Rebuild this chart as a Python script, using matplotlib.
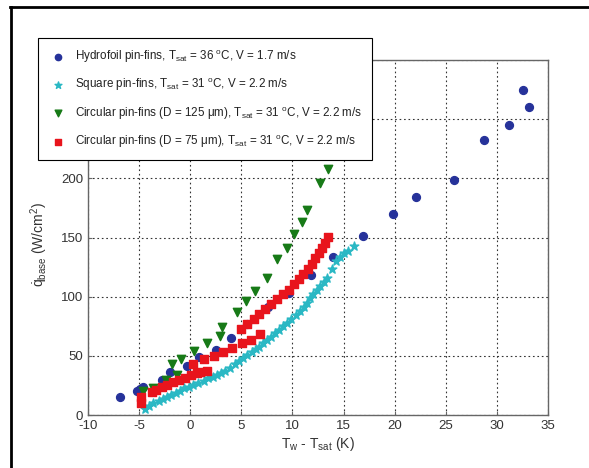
import matplotlib
matplotlib.use("Agg")
import matplotlib.pyplot as plt
from matplotlib.lines import Line2D

plt.rcParams['font.family'] = ['Liberation Sans', 'DejaVu Sans']
plt.rcParams['mathtext.fontset'] = 'custom'
plt.rcParams['mathtext.rm'] = 'Liberation Sans'
plt.rcParams['mathtext.it'] = 'Liberation Sans:italic'
plt.rcParams['axes.unicode_minus'] = False

# hydrofoil pin-fins, Tsat = 36 C, V = 1.7 m/s
hydro_x = [-6.9, -5.2, -4.9, -4.6, -2.8, -2.0, -0.3, 0.9, 2.5, 4.0, 5.6, 7.6, 9.7,
           11.8, 14.0, 16.9, 19.8, 22.1, 25.8, 28.7, 31.2, 32.6, 33.1]
hydro_y = [15, 20.5, 22, 23.5, 29.5, 36, 41.7, 48.7, 55, 65.5, 77, 91, 103,
           118, 133.5, 151, 169.5, 184, 199, 232, 245, 275, 260]

# square pin-fins
square_x = [-4.4, -4.0, -3.6, -3.1, -2.7, -2.3, -1.9, -1.4, -1.0, -0.6, -0.1, 0.3, 0.8,
            1.3, 1.7, 2.2, 2.6, 3.0, 3.4, 3.9, 4.4, 4.8, 5.2, 5.6, 6.0, 6.4, 6.7,
            7.1, 7.5, 7.9, 8.3, 8.7, 9.1, 9.5, 9.9, 10.3, 10.75, 11.1, 11.4, 11.7,
            12.05, 12.4, 12.7, 13.1, 13.4, 13.85, 14.3, 14.7, 15.0, 15.4, 16.0]
square_y = [5, 8, 10, 12.2, 13.8, 15.5, 17, 19, 20.6, 22.5, 24, 25, 27,
            29.1, 31, 32.5, 34, 35.5, 37.5, 40, 43.1, 45.5, 48.2, 50.5, 52.9, 55.5, 57.7,
            60.5, 63.3, 66, 68.9, 72, 75.4, 78, 81, 84.5, 88, 91.5, 95, 98.5,
            102, 105.5, 109, 112.5, 116, 123, 130, 133.5, 137, 139, 142.8]

# circular pin-fins, D = 125 um
c125_x = [-4.6, -3.6, -2.4, -1.8, -1.3, -0.9, 0.4, 1.6, 2.9, 3.1, 4.6, 5.5, 6.35,
          7.5, 8.5, 9.5, 10.2, 10.9, 11.4, 12.7, 13.5]
c125_y = [20.6, 23, 29.6, 43, 34, 47.3, 53.8, 61, 67, 74, 87, 96, 105,
          116, 132, 141, 152.6, 163, 173, 196, 208]

# circular pin-fins, D = 75 um
c75_x = [-4.8, -4.8, -3.75, -3.3, -2.8, -2.3, -1.7, -1.1, -0.5, 0.1, 0.7, 1.0, 1.6,
         0.3, 1.3, 2.3, 3.2, 4.1, 5.05, 5.9, 6.8,
         5.0, 5.6, 6.2, 6.75, 7.3, 7.9, 8.5, 9.1, 9.7, 10.2, 10.6, 11.0, 11.5,
         11.9, 12.2, 12.55, 12.9, 13.2, 13.5]
c75_y = [10, 15, 19.5, 21.5, 23.5, 25.5, 27.5, 29.5, 31.5, 33.5, 35.5, 36, 37.5,
         43, 47, 50, 53.5, 56.3, 60.5, 63.6, 68.4,
         72.5, 77, 81, 85, 89.5, 93.5, 98, 102, 106, 110.5, 115, 119, 123.5,
         128, 132.5, 136.5, 141.5, 145.5, 150.5]

labels = [
    r'Hydrofoil pin-fins, T$_{\mathrm{sat}}$ = 36 $^{\mathrm{o}}$C, V = 1.7 m/s',
    r'Square pin-fins, T$_{\mathrm{sat}}$ = 31 $^{\mathrm{o}}$C, V = 2.2 m/s',
    r'Circular pin-fins (D = 125 μm), T$_{\mathrm{sat}}$ = 31 $^{\mathrm{o}}$C, V = 2.2 m/s',
    r'Circular pin-fins (D = 75 μm), T$_{\mathrm{sat}}$ = 31 $^{\mathrm{o}}$C, V = 2.2 m/s',
]

fig = plt.figure(figsize=(5.89, 4.68), dpi=100)
ax = fig.add_axes([0.1494, 0.1132, 0.781, 0.7586])

ax.scatter(hydro_x, hydro_y, s=32, marker='o', color='#26329a', label=labels[0], zorder=3)
ax.scatter(square_x, square_y, s=42, marker='*', color='#2ab8c4', label=labels[1], zorder=3)
ax.scatter(c125_x, c125_y, s=36, marker='v', color='#177a17', label=labels[2], zorder=3)
ax.scatter(c75_x, c75_y, s=36, marker='s', color='#e8141c', label=labels[3], zorder=3)

ax.set_xlim(-10, 35)
ax.set_ylim(0, 300)
ax.set_xticks(range(-10, 36, 5))
ax.set_yticks(range(0, 301, 50))
ax.grid(True, linestyle=(0, (1.5, 2.5)), color='#333333', linewidth=0.8)
ax.tick_params(direction='in', length=3, labelsize=9.5, color='#666666', labelcolor='#333333')
for sp in ax.spines.values():
    sp.set_color('#666666')
    sp.set_linewidth(1.0)

ax.set_xlabel(r'T$_{\mathrm{w}}$ - T$_{\mathrm{sat}}$ (K)', fontsize=10, color='#333333', labelpad=2)
ax.set_ylabel(r'$\dot{\mathrm{q}}_{\mathrm{base}}$ (W/cm$^{2}$)', fontsize=10, color='#333333')
ax.yaxis.set_label_coords(-0.083, 0.48)

leg = fig.legend(loc='upper left', bbox_to_anchor=(0.064, 0.919), fontsize=8.4,
                 frameon=True, fancybox=False, edgecolor='black', framealpha=1,
                 handletextpad=0.55, labelspacing=1.0, borderpad=0.85, borderaxespad=0,
                 handlelength=1.8, markerscale=0.8, scatterpoints=1)
leg.get_frame().set_linewidth(0.8)
for t in leg.get_texts():
    t.set_color('#222222')

# outer frame (top and left)
fig.add_artist(Line2D([0.017, 1.0], [0.985, 0.985], color='black', linewidth=2, transform=fig.transFigure))
fig.add_artist(Line2D([0.018, 0.018], [0.0, 0.985], color='black', linewidth=2, transform=fig.transFigure))

fig.savefig('out.png', dpi=100)
